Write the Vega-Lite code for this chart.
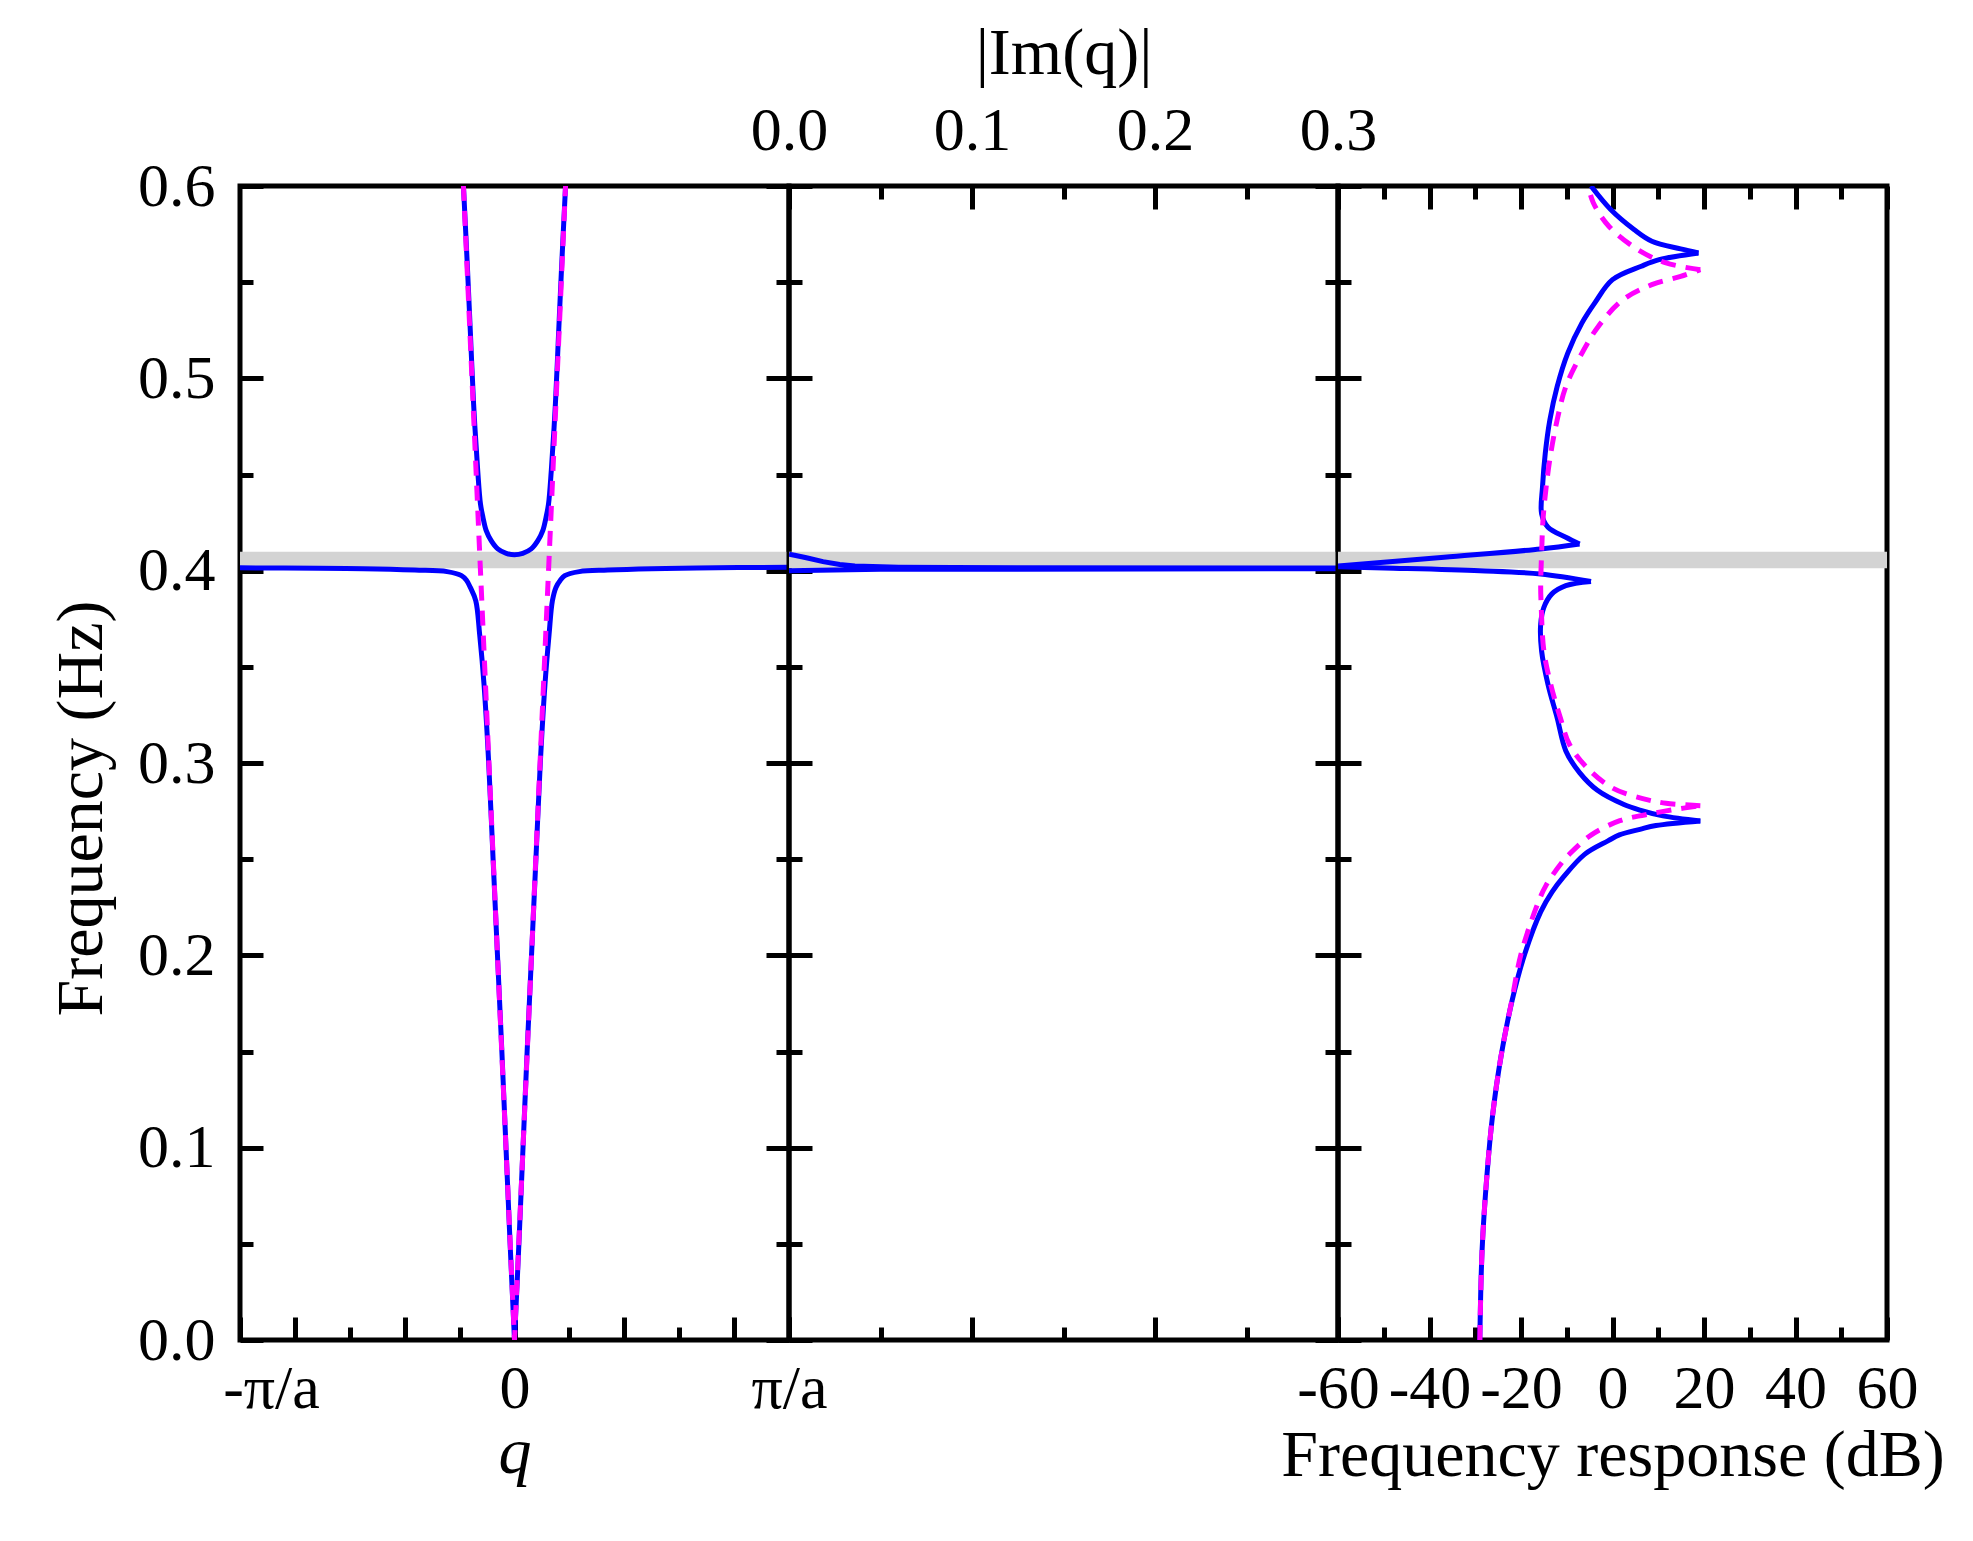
{
  "$schema": "https://vega.github.io/schema/vega-lite/v6.json",
  "background": "white",
  "padding": {"left": 46, "top": 17, "right": 20, "bottom": 20},
  "bounds": "flush",
  "spacing": 0,
  "config": {
    "font": "Liberation Serif",
    "view": {"stroke": "black", "strokeWidth": 5},
    "axis": {
      "grid": false, "domain": false, "zindex": 1,
      "labelFont": "Liberation Serif", "labelFontSize": 62, "labelColor": "black",
      "titleFont": "Liberation Serif", "titleFontSize": 66, "titleFontWeight": "normal", "titleColor": "black",
      "tickColor": "black", "tickWidth": 5,
      "labelFlush": false, "labelOverlap": false, "labelBound": false
    }
  },
  "datasets": {
    "band": [{"lo": 0.4012, "hi": 0.4099}],
    "dispBlue": [
      {"s": "lowerL", "i": 1, "q": -1.0, "f": 0.4015},
      {"s": "lowerL", "i": 2, "q": -0.714, "f": 0.4012},
      {"s": "lowerL", "i": 3, "q": -0.55, "f": 0.4010},
      {"s": "lowerL", "i": 4, "q": -0.363, "f": 0.4003},
      {"s": "lowerL", "i": 5, "q": -0.2455, "f": 0.3995},
      {"s": "lowerL", "i": 6, "q": -0.193, "f": 0.3974},
      {"s": "lowerL", "i": 7, "q": -0.175, "f": 0.3950},
      {"s": "lowerL", "i": 8, "q": -0.161, "f": 0.3913},
      {"s": "lowerL", "i": 9, "q": -0.141, "f": 0.3843},
      {"s": "lowerL", "i": 10, "q": -0.127, "f": 0.3669},
      {"s": "lowerL", "i": 11, "q": -0.111, "f": 0.3408},
      {"s": "lowerL", "i": 12, "q": -0.094, "f": 0.30},
      {"s": "lowerL", "i": 13, "q": -0.078, "f": 0.25},
      {"s": "lowerL", "i": 14, "q": -0.062, "f": 0.20},
      {"s": "lowerL", "i": 15, "q": -0.046, "f": 0.15},
      {"s": "lowerL", "i": 16, "q": -0.031, "f": 0.10},
      {"s": "lowerL", "i": 17, "q": -0.016, "f": 0.05},
      {"s": "lowerL", "i": 18, "q": 0.0, "f": 0.0},
      {"s": "lowerR", "i": 18, "q": 0.0, "f": 0.0},
      {"s": "lowerR", "i": 19, "q": 0.016, "f": 0.05},
      {"s": "lowerR", "i": 20, "q": 0.031, "f": 0.10},
      {"s": "lowerR", "i": 21, "q": 0.046, "f": 0.15},
      {"s": "lowerR", "i": 22, "q": 0.062, "f": 0.20},
      {"s": "lowerR", "i": 23, "q": 0.078, "f": 0.25},
      {"s": "lowerR", "i": 24, "q": 0.094, "f": 0.30},
      {"s": "lowerR", "i": 25, "q": 0.111, "f": 0.3408},
      {"s": "lowerR", "i": 26, "q": 0.126, "f": 0.3669},
      {"s": "lowerR", "i": 27, "q": 0.138, "f": 0.3843},
      {"s": "lowerR", "i": 28, "q": 0.151, "f": 0.3913},
      {"s": "lowerR", "i": 29, "q": 0.167, "f": 0.3950},
      {"s": "lowerR", "i": 30, "q": 0.183, "f": 0.3974},
      {"s": "lowerR", "i": 31, "q": 0.236, "f": 0.3995},
      {"s": "lowerR", "i": 32, "q": 0.34, "f": 0.4003},
      {"s": "lowerR", "i": 33, "q": 0.50, "f": 0.4010},
      {"s": "lowerR", "i": 34, "q": 0.664, "f": 0.4014},
      {"s": "lowerR", "i": 35, "q": 1.0, "f": 0.4018},
      {"s": "upper", "i": 1, "q": -0.186, "f": 0.6},
      {"s": "upper", "i": 2, "q": -0.171, "f": 0.5561},
      {"s": "upper", "i": 3, "q": -0.160, "f": 0.5214},
      {"s": "upper", "i": 4, "q": -0.149, "f": 0.4867},
      {"s": "upper", "i": 5, "q": -0.134, "f": 0.452},
      {"s": "upper", "i": 6, "q": -0.124, "f": 0.4347},
      {"s": "upper", "i": 7, "q": -0.115, "f": 0.4278},
      {"s": "upper", "i": 8, "q": -0.103, "f": 0.4208},
      {"s": "upper", "i": 9, "q": -0.085, "f": 0.4156},
      {"s": "upper", "i": 10, "q": -0.061, "f": 0.4113},
      {"s": "upper", "i": 11, "q": -0.030, "f": 0.4090},
      {"s": "upper", "i": 12, "q": 0.0, "f": 0.4083},
      {"s": "upper", "i": 13, "q": 0.030, "f": 0.4090},
      {"s": "upper", "i": 14, "q": 0.061, "f": 0.4113},
      {"s": "upper", "i": 15, "q": 0.085, "f": 0.4156},
      {"s": "upper", "i": 16, "q": 0.103, "f": 0.4208},
      {"s": "upper", "i": 17, "q": 0.115, "f": 0.4278},
      {"s": "upper", "i": 18, "q": 0.124, "f": 0.4347},
      {"s": "upper", "i": 19, "q": 0.134, "f": 0.452},
      {"s": "upper", "i": 20, "q": 0.149, "f": 0.4867},
      {"s": "upper", "i": 21, "q": 0.160, "f": 0.5214},
      {"s": "upper", "i": 22, "q": 0.171, "f": 0.5561},
      {"s": "upper", "i": 23, "q": 0.186, "f": 0.6}
    ],
    "dispMag": [
      {"i": 1, "q": -0.186, "f": 0.6},
      {"i": 2, "q": 0.0, "f": 0.0},
      {"i": 3, "q": 0.186, "f": 0.6}
    ],
    "imq": [
      {"i": 0, "im": 0.0, "f": 0.4000},
      {"i": 1, "im": 0.05, "f": 0.4007},
      {"i": 2, "im": 0.4, "f": 0.4011},
      {"i": 3, "im": 0.4, "f": 0.4013},
      {"i": 4, "im": 0.09, "f": 0.4016},
      {"i": 5, "im": 0.06, "f": 0.4018},
      {"i": 6, "im": 0.036, "f": 0.4024},
      {"i": 7, "im": 0.0277, "f": 0.4032},
      {"i": 8, "im": 0.0186, "f": 0.4047},
      {"i": 9, "im": 0.0095, "f": 0.4067},
      {"i": 10, "im": 0.003, "f": 0.4080},
      {"i": 11, "im": 0.0, "f": 0.4086}
    ],
    "respBlue": [
      {"s": "a", "i": 1, "f": 0.0, "db": -29},
      {"s": "a", "i": 2, "f": 0.047, "db": -28.5},
      {"s": "a", "i": 3, "f": 0.087, "db": -27.4},
      {"s": "a", "i": 4, "f": 0.117, "db": -26.2},
      {"s": "a", "i": 5, "f": 0.147, "db": -24.4},
      {"s": "a", "i": 6, "f": 0.177, "db": -21.9},
      {"s": "a", "i": 7, "f": 0.2006, "db": -19.2},
      {"s": "a", "i": 8, "f": 0.2226, "db": -15.7},
      {"s": "a", "i": 9, "f": 0.233, "db": -13.2},
      {"s": "a", "i": 10, "f": 0.2405, "db": -10.8},
      {"s": "a", "i": 11, "f": 0.2525, "db": -6.1},
      {"s": "a", "i": 12, "f": 0.2595, "db": -1.0},
      {"s": "a", "i": 13, "f": 0.2626, "db": 1.5},
      {"s": "a", "i": 14, "f": 0.2655, "db": 6.0},
      {"s": "a", "i": 15, "f": 0.2675, "db": 9.5},
      {"s": "a", "i": 16, "f": 0.2699, "db": 19.2},
      {"s": "b", "i": 16, "f": 0.2699, "db": 19.2},
      {"s": "b", "i": 17, "f": 0.2725, "db": 11},
      {"s": "b", "i": 18, "f": 0.2755, "db": 6},
      {"s": "b", "i": 19, "f": 0.2784, "db": 2.5},
      {"s": "b", "i": 20, "f": 0.2858, "db": -3.3},
      {"s": "b", "i": 21, "f": 0.295, "db": -7.2},
      {"s": "b", "i": 22, "f": 0.3063, "db": -10.2},
      {"s": "b", "i": 23, "f": 0.3235, "db": -12.1},
      {"s": "b", "i": 24, "f": 0.3409, "db": -14.1},
      {"s": "b", "i": 25, "f": 0.3583, "db": -15.5},
      {"s": "b", "i": 26, "f": 0.3722, "db": -15.7},
      {"s": "b", "i": 27, "f": 0.3809, "db": -15},
      {"s": "b", "i": 28, "f": 0.3878, "db": -13.3},
      {"s": "b", "i": 29, "f": 0.3922, "db": -10.2},
      {"s": "b", "i": 30, "f": 0.3944, "db": -4.7},
      {"s": "c", "i": 30, "f": 0.3944, "db": -4.7},
      {"s": "c", "i": 31, "f": 0.3983, "db": -15.7},
      {"s": "c", "i": 32, "f": 0.4000, "db": -29},
      {"s": "c", "i": 33, "f": 0.4014, "db": -50},
      {"s": "c", "i": 34, "f": 0.4021, "db": -62},
      {"s": "d", "i": 34, "f": 0.4021, "db": -62},
      {"s": "d", "i": 35, "f": 0.4070, "db": -36.8},
      {"s": "d", "i": 36, "f": 0.4113, "db": -15.7},
      {"s": "d", "i": 37, "f": 0.4139, "db": -7.2},
      {"s": "e", "i": 37, "f": 0.4139, "db": -7.2},
      {"s": "e", "i": 38, "f": 0.4174, "db": -10.2},
      {"s": "e", "i": 39, "f": 0.4226, "db": -14.1},
      {"s": "e", "i": 40, "f": 0.4296, "db": -15.5},
      {"s": "e", "i": 41, "f": 0.4435, "db": -15.3},
      {"s": "e", "i": 42, "f": 0.4609, "db": -14.7},
      {"s": "e", "i": 43, "f": 0.4783, "db": -13.7},
      {"s": "e", "i": 44, "f": 0.4957, "db": -12.1},
      {"s": "e", "i": 45, "f": 0.513, "db": -9.8},
      {"s": "e", "i": 46, "f": 0.5287, "db": -6.7},
      {"s": "e", "i": 47, "f": 0.5391, "db": -3.9},
      {"s": "e", "i": 48, "f": 0.5513, "db": 0},
      {"s": "e", "i": 49, "f": 0.5583, "db": 6.3},
      {"s": "e", "i": 50, "f": 0.5617, "db": 10.2},
      {"s": "e", "i": 51, "f": 0.5652, "db": 18.8},
      {"s": "f", "i": 51, "f": 0.5652, "db": 18.8},
      {"s": "f", "i": 52, "f": 0.5673, "db": 14.9},
      {"s": "f", "i": 53, "f": 0.5713, "db": 8.6},
      {"s": "f", "i": 54, "f": 0.5774, "db": 4.7},
      {"s": "f", "i": 55, "f": 0.5878, "db": -0.4},
      {"s": "f", "i": 56, "f": 0.6, "db": -4.7}
    ],
    "respMag": [
      {"s": "a", "i": 1, "f": 0.0, "db": -29},
      {"s": "a", "i": 2, "f": 0.047, "db": -28.5},
      {"s": "a", "i": 3, "f": 0.087, "db": -27.4},
      {"s": "a", "i": 4, "f": 0.117, "db": -26.2},
      {"s": "a", "i": 5, "f": 0.147, "db": -24.4},
      {"s": "a", "i": 6, "f": 0.1766, "db": -22},
      {"s": "a", "i": 7, "f": 0.2006, "db": -20},
      {"s": "a", "i": 8, "f": 0.2265, "db": -16.4},
      {"s": "a", "i": 9, "f": 0.2365, "db": -14.5},
      {"s": "a", "i": 10, "f": 0.2485, "db": -11},
      {"s": "a", "i": 11, "f": 0.2522, "db": -9.6},
      {"s": "a", "i": 12, "f": 0.2625, "db": -4.7},
      {"s": "a", "i": 13, "f": 0.270, "db": 1.6},
      {"s": "a", "i": 14, "f": 0.273, "db": 7},
      {"s": "a", "i": 15, "f": 0.2756, "db": 13},
      {"s": "a", "i": 16, "f": 0.2778, "db": 19.2},
      {"s": "b", "i": 16, "f": 0.2778, "db": 19.2},
      {"s": "b", "i": 17, "f": 0.2791, "db": 11.7},
      {"s": "b", "i": 18, "f": 0.2815, "db": 6.6},
      {"s": "b", "i": 19, "f": 0.287, "db": 0},
      {"s": "b", "i": 20, "f": 0.2974, "db": -5.5},
      {"s": "b", "i": 21, "f": 0.3096, "db": -9.4},
      {"s": "b", "i": 22, "f": 0.3235, "db": -11.4},
      {"s": "b", "i": 23, "f": 0.3409, "db": -13.5},
      {"s": "b", "i": 24, "f": 0.3583, "db": -15},
      {"s": "b", "i": 25, "f": 0.3826, "db": -15.6},
      {"s": "b", "i": 26, "f": 0.393, "db": -15.7},
      {"s": "b", "i": 27, "f": 0.4087, "db": -15.5},
      {"s": "b", "i": 28, "f": 0.4261, "db": -15.2},
      {"s": "b", "i": 29, "f": 0.4435, "db": -14.5},
      {"s": "b", "i": 30, "f": 0.4609, "db": -13.5},
      {"s": "b", "i": 31, "f": 0.4783, "db": -12.1},
      {"s": "b", "i": 32, "f": 0.4957, "db": -10.2},
      {"s": "b", "i": 33, "f": 0.513, "db": -6.7},
      {"s": "b", "i": 34, "f": 0.527, "db": -3.1},
      {"s": "b", "i": 35, "f": 0.5409, "db": 2.3},
      {"s": "b", "i": 36, "f": 0.5487, "db": 8.6},
      {"s": "b", "i": 37, "f": 0.553, "db": 14.9},
      {"s": "b", "i": 38, "f": 0.5565, "db": 19.2},
      {"s": "c", "i": 38, "f": 0.5565, "db": 19.2},
      {"s": "c", "i": 39, "f": 0.56, "db": 11.7},
      {"s": "c", "i": 40, "f": 0.567, "db": 5.5},
      {"s": "c", "i": 41, "f": 0.5791, "db": -0.8},
      {"s": "c", "i": 42, "f": 0.5913, "db": -4.2},
      {"s": "c", "i": 43, "f": 0.6, "db": -5.3}
    ]
  },
  "hconcat": [
    {
      "width": 549,
      "height": 1154,
      "resolve": {"scale": {"x": "independent", "y": "independent"}, "axis": {"x": "independent", "y": "independent"}},
      "layer": [
        {
          "data": {"name": "band"},
          "mark": {"type": "rect", "color": "#d3d3d3"},
          "encoding": {
            "y": {
              "field": "lo", "type": "quantitative",
              "scale": {"domain": [0, 0.6], "nice": false},
              "axis": {
                "orient": "left", "title": "Frequency (Hz)", "titlePadding": 22, "titleY": 622,
                "values": [0, 0.05, 0.1, 0.15, 0.2, 0.25, 0.3, 0.35, 0.4, 0.45, 0.5, 0.55, 0.6],
                "labelExpr": "abs(datum.value*10 - round(datum.value*10)) < 0.001 ? format(datum.value, '.1f') : ''",
                "labelPadding": 48,
                "tickSize": {"condition": {"test": "abs(datum.value*10 - round(datum.value*10)) < 0.001", "value": -23}, "value": -13}
              }
            },
            "y2": {"field": "hi"}
          }
        },
        {
          "data": {"name": "dispBlue"},
          "mark": {"type": "line", "color": "#0000ff", "strokeWidth": 5, "clip": true, "interpolate": "catmull-rom"},
          "encoding": {
            "x": {
              "field": "q", "type": "quantitative",
              "scale": {"domain": [-1, 1], "nice": false, "zero": false},
              "axis": {
                "orient": "bottom", "title": "q", "titleFontStyle": "italic", "titlePadding": -9,
                "values": [-1, -0.8, -0.6, -0.4, -0.2, 0, 0.2, 0.4, 0.6, 0.8, 1],
                "labelExpr": "datum.value == -1 ? '-π/a' : datum.value == 0 ? '0' : datum.value == 1 ? 'π/a' : ''",
                "labelPadding": 41,
                "labelOffset": {"condition": {"test": "datum.value == -1", "value": 31}, "value": 0},
                "tickSize": {"condition": {"test": "abs(datum.value*2.5 - round(datum.value*2.5)) < 0.001 || abs(datum.value) > 0.99", "value": -23}, "value": -13}
              }
            },
            "y": {
              "field": "f", "type": "quantitative",
              "scale": {"domain": [0, 0.6], "nice": false},
              "axis": {
                "orient": "right", "labels": false, "title": null,
                "values": [0, 0.05, 0.1, 0.15, 0.2, 0.25, 0.3, 0.35, 0.4, 0.45, 0.5, 0.55, 0.6],
                "tickSize": {"condition": {"test": "abs(datum.value*10 - round(datum.value*10)) < 0.001", "value": -23}, "value": -13}
              }
            },
            "detail": {"field": "s", "type": "nominal"},
            "order": {"field": "i", "type": "quantitative"}
          }
        },
        {
          "data": {"name": "dispMag"},
          "mark": {"type": "line", "color": "#ff00ff", "strokeWidth": 5, "strokeDash": [15, 10], "clip": true},
          "encoding": {
            "x": {"field": "q", "type": "quantitative", "scale": {"domain": [-1, 1], "nice": false, "zero": false}, "axis": null},
            "y": {"field": "f", "type": "quantitative", "scale": {"domain": [0, 0.6], "nice": false}, "axis": null},
            "order": {"field": "i", "type": "quantitative"}
          }
        }
      ]
    },
    {
      "width": 549,
      "height": 1154,
      "resolve": {"scale": {"x": "independent", "y": "independent"}, "axis": {"x": "independent", "y": "independent"}},
      "layer": [
        {
          "data": {"name": "band"},
          "mark": {"type": "rect", "color": "#d3d3d3"},
          "encoding": {
            "y": {
              "field": "lo", "type": "quantitative",
              "scale": {"domain": [0, 0.6], "nice": false},
              "axis": {
                "orient": "left", "labels": false, "title": null,
                "values": [0, 0.05, 0.1, 0.15, 0.2, 0.25, 0.3, 0.35, 0.4, 0.45, 0.5, 0.55, 0.6],
                "tickSize": {"condition": {"test": "abs(datum.value*10 - round(datum.value*10)) < 0.001", "value": -23}, "value": -13}
              }
            },
            "y2": {"field": "hi"}
          }
        },
        {
          "data": {"name": "imq"},
          "mark": {"type": "line", "color": "#0000ff", "strokeWidth": 5, "clip": true},
          "encoding": {
            "x": {
              "field": "im", "type": "quantitative",
              "scale": {"domain": [0, 0.3], "nice": false},
              "axis": {
                "orient": "top", "title": "|Im(q)|", "titlePadding": 2,
                "values": [0, 0.05, 0.1, 0.15, 0.2, 0.25, 0.3],
                "labelExpr": "abs(datum.value*10 - round(datum.value*10)) < 0.001 ? format(datum.value, '.1f') : ''",
                "labelPadding": 47,
                "tickSize": {"condition": {"test": "abs(datum.value*10 - round(datum.value*10)) < 0.001", "value": -23}, "value": -13}
              }
            },
            "y": {
              "field": "f", "type": "quantitative",
              "scale": {"domain": [0, 0.6], "nice": false},
              "axis": {
                "orient": "right", "labels": false, "title": null,
                "values": [0, 0.05, 0.1, 0.15, 0.2, 0.25, 0.3, 0.35, 0.4, 0.45, 0.5, 0.55, 0.6],
                "tickSize": {"condition": {"test": "abs(datum.value*10 - round(datum.value*10)) < 0.001", "value": -23}, "value": -13}
              }
            },
            "order": {"field": "i", "type": "quantitative"}
          }
        },
        {
          "data": {"name": "imq"},
          "mark": {"type": "line", "color": "#0000ff", "strokeWidth": 5, "strokeOpacity": 0, "clip": true},
          "encoding": {
            "x": {
              "field": "im", "type": "quantitative",
              "scale": {"domain": [0, 0.3], "nice": false},
              "axis": {
                "orient": "bottom", "labels": false, "title": null,
                "values": [0, 0.05, 0.1, 0.15, 0.2, 0.25, 0.3],
                "tickSize": {"condition": {"test": "abs(datum.value*10 - round(datum.value*10)) < 0.001", "value": -23}, "value": -13}
              }
            },
            "y": {"field": "f", "type": "quantitative", "scale": {"domain": [0, 0.6], "nice": false}, "axis": null},
            "order": {"field": "i", "type": "quantitative"}
          }
        }
      ]
    },
    {
      "width": 549,
      "height": 1154,
      "resolve": {"scale": {"x": "independent", "y": "independent"}, "axis": {"x": "independent", "y": "independent"}},
      "layer": [
        {
          "data": {"name": "band"},
          "mark": {"type": "rect", "color": "#d3d3d3"},
          "encoding": {
            "y": {
              "field": "lo", "type": "quantitative",
              "scale": {"domain": [0, 0.6], "nice": false},
              "axis": {
                "orient": "left", "labels": false, "title": null,
                "values": [0, 0.05, 0.1, 0.15, 0.2, 0.25, 0.3, 0.35, 0.4, 0.45, 0.5, 0.55, 0.6],
                "tickSize": {"condition": {"test": "abs(datum.value*10 - round(datum.value*10)) < 0.001", "value": -23}, "value": -13}
              }
            },
            "y2": {"field": "hi"}
          }
        },
        {
          "data": {"name": "respBlue"},
          "mark": {"type": "line", "color": "#0000ff", "strokeWidth": 5, "clip": true, "interpolate": "catmull-rom"},
          "encoding": {
            "x": {
              "field": "db", "type": "quantitative",
              "scale": {"domain": [-60, 60], "nice": false, "zero": false},
              "axis": {
                "orient": "bottom", "title": "Frequency response (dB)", "titlePadding": -6,
                "values": [-60, -50, -40, -30, -20, -10, 0, 10, 20, 30, 40, 50, 60],
                "labelExpr": "datum.value % 20 == 0 ? '' + datum.value : ''",
                "labelPadding": 41,
                "tickSize": {"condition": {"test": "datum.value % 20 == 0", "value": -23}, "value": -13}
              }
            },
            "y": {"field": "f", "type": "quantitative", "scale": {"domain": [0, 0.6], "nice": false}, "axis": null},
            "detail": {"field": "s", "type": "nominal"},
            "order": {"field": "i", "type": "quantitative"}
          }
        },
        {
          "data": {"name": "respMag"},
          "mark": {"type": "line", "color": "#ff00ff", "strokeWidth": 5, "strokeDash": [15, 10], "clip": true, "interpolate": "catmull-rom"},
          "encoding": {
            "x": {
              "field": "db", "type": "quantitative",
              "scale": {"domain": [-60, 60], "nice": false, "zero": false},
              "axis": {
                "orient": "top", "labels": false, "title": null,
                "values": [-60, -50, -40, -30, -20, -10, 0, 10, 20, 30, 40, 50, 60],
                "tickSize": {"condition": {"test": "datum.value % 20 == 0", "value": -23}, "value": -13}
              }
            },
            "y": {"field": "f", "type": "quantitative", "scale": {"domain": [0, 0.6], "nice": false}, "axis": null},
            "detail": {"field": "s", "type": "nominal"},
            "order": {"field": "i", "type": "quantitative"}
          }
        }
      ]
    }
  ]
}
